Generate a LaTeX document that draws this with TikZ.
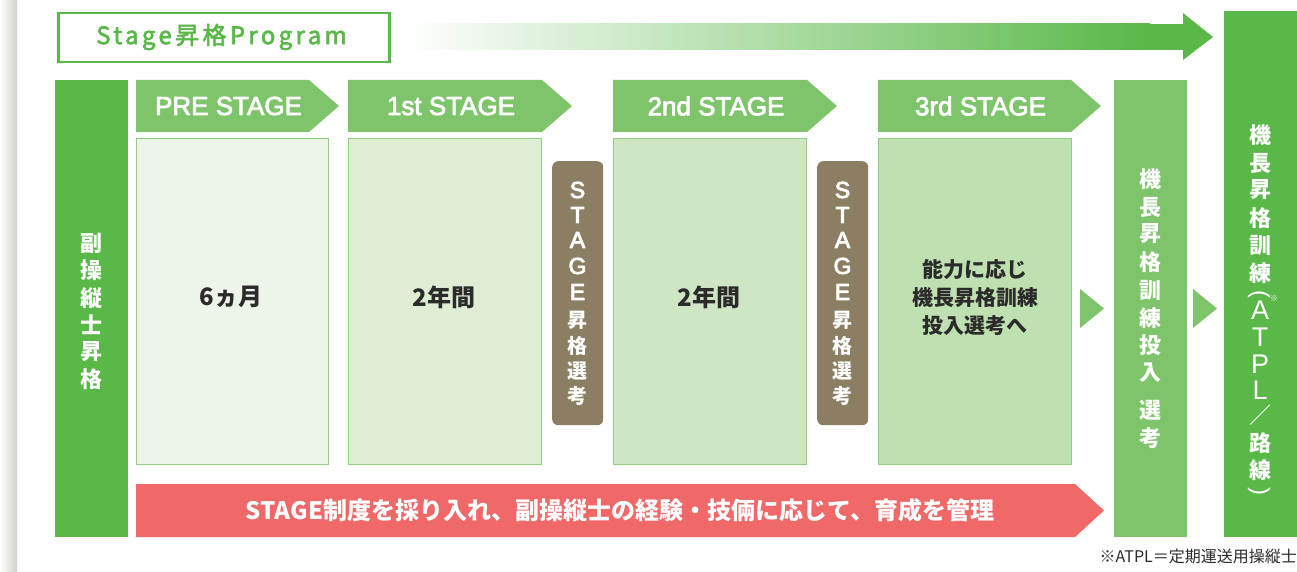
\documentclass[tikz,border=0pt]{standalone}
\usepackage{fontspec}
\setmainfont{Noto Sans CJK JP}
\newfontfamily\lat{Liberation Sans}
\newcommand\heavy[2]{\special{pdf:literal direct 2 Tr #1 w 1 j}#2\special{pdf:literal direct 0 Tr}}
\definecolor{dgreen}{HTML}{59B848}
\definecolor{hgreen}{HTML}{7DC46A}
\definecolor{bline}{HTML}{8ED07F}
\definecolor{cza}{HTML}{EDF5E8}
\definecolor{czb}{HTML}{DEEDD4}
\definecolor{czc}{HTML}{CFE6C5}
\definecolor{czd}{HTML}{BFE0B0}
\definecolor{brownbox}{HTML}{8B7E62}
\definecolor{redbar}{HTML}{F06868}
\definecolor{txt}{HTML}{2B2B2B}
\definecolor{shadowgray}{HTML}{D3CEC9}
\begin{document}
\begin{tikzpicture}[x=1pt,y=-1pt,
  cbox/.style={draw=bline, line width=1pt, anchor=north west, inner sep=0pt},
  htext/.style={text=white, font=\lat\fontsize{26}{26}\selectfont, inner sep=0pt},
  vch/.style={text=white, font=\bfseries\fontsize{#1}{#1}\selectfont, inner sep=0pt},
  vch/.default=22,
  ctext/.style={text=txt, font=\bfseries\fontsize{#1}{28}\selectfont, align=center, inner sep=0pt},
  ctext/.default=24]
\useasboundingbox (0,0) rectangle (1297,572);
\fill[white] (0,0) rectangle (1297,572);
% left shadow
\shade[left color=white, right color=shadowgray] (0,0) rectangle (17,572);

% title box
\node[draw=dgreen, line width=2.5pt, minimum width=331pt, minimum height=49pt, anchor=north west, inner sep=0pt] (title) at (57,12) {};
\node[text=dgreen, font=\fontsize{24}{24}\selectfont\addfontfeatures{LetterSpace=14}] (titletxt) at (221.5,37) {\heavy{0.6}{Stage昇格Program}};

% gradient arrow
\shade[left color=white, right color=dgreen] (405,24) rectangle (1150,50);
\fill[dgreen] (1149,24) rectangle (1184,50);
\fill[dgreen] (1183,13) -- (1213,37) -- (1183,60) -- cycle;

% left, mid, right vertical boxes
\node[fill=dgreen, minimum width=73pt, minimum height=457pt, anchor=north west, inner sep=0pt] (lbox) at (55,80) {};
\node[fill=hgreen, minimum width=73pt, minimum height=457pt, anchor=north west, inner sep=0pt] (mbox) at (1114,80) {};
\node[fill=dgreen, minimum width=73pt, minimum height=526pt, anchor=north west, inner sep=0pt] (rbox) at (1224,11) {};

% headers
\newcommand\hdr[5]{%
  \fill[hgreen] (#1,80) -- (#2,80) -- (#3,106) -- (#2,132) -- (#1,132) -- cycle;
  \node[htext] (#5) at ({(#1+#2)/2+6},106) {\heavy{0.8}{#4}};}
\hdr{136}{309}{339}{PRE STAGE}{h0}
\hdr{348}{542}{572}{1st STAGE}{h1}
\hdr{613}{807}{837}{2nd STAGE}{h2}
\hdr{878}{1071}{1101}{3rd STAGE}{h3}

% content boxes
\node[cbox, fill=cza, minimum width=192pt, minimum height=326pt] (c0) at (136,138) {};
\node[cbox, fill=czb, minimum width=193pt, minimum height=326pt] (c1) at (348,138) {};
\node[cbox, fill=czc, minimum width=193pt, minimum height=326pt] (c2) at (613,138) {};
\node[cbox, fill=czd, minimum width=193pt, minimum height=326pt] (c3) at (878,138) {};
\node[ctext] (t0) at (231,297) {6ヵ月};
\node[ctext] (t1) at (444,297) {2年間};
\node[ctext] (t2) at (709,297) {2年間};
\node[ctext=21] (t3) at (975,297) {能力に応じ\\機長昇格訓練\\投入選考へ};

% brown boxes
\node[fill=brownbox, rounded corners=6pt, minimum width=51pt, minimum height=264pt, anchor=north west, inner sep=0pt] (b1) at (552,161) {};
\node[fill=brownbox, rounded corners=6pt, minimum width=51pt, minimum height=264pt, anchor=north west, inner sep=0pt] (b2) at (817,161) {};

% triangles
\fill[hgreen] (1080,289) -- (1104,308.5) -- (1080,328) -- cycle;
\fill[hgreen] (1193,289) -- (1217,308.5) -- (1193,328) -- cycle;

% red bar
\fill[redbar] (136,484) -- (1075,484) -- (1104,510.5) -- (1075,537) -- (136,537) -- cycle;
\node[text=white, font=\bfseries\fontsize{24}{24}\selectfont, inner sep=0pt] (redtxt) at (620,510.5) {STAGE制度を採り入れ、副操縦士の経験・技倆に応じて、育成を管理};

% vertical texts
\foreach \c/\y in {副/243, 操/270, 縦/298, 士/325, 昇/352, 格/379}
  \node[vch] (L\y) at (91.5,\y) {\c};
\foreach \c/\y in {昇/320, 格/346, 選/371, 考/396}{
  \node[vch=20] (B\y) at (577.5,\y) {\c};
  \node[vch=20] (C\y) at (842.5,\y) {\c};}
\foreach \c/\y in {S/190, T/215, A/240, G/266, E/292}{
  \node[text=white, font=\lat\fontsize{23}{23}\selectfont, inner sep=0pt] (B\y) at (577.5,\y) {\heavy{0.9}{\c}};
  \node[text=white, font=\lat\fontsize{23}{23}\selectfont, inner sep=0pt] (C\y) at (842.5,\y) {\heavy{0.9}{\c}};}
\foreach \c/\y in {機/179, 長/207, 昇/234, 格/262, 訓/290, 練/318, 投/345, 入/373, 選/410, 考/438}
  \node[vch] (M\y) at (1150.5,\y) {\c};
\foreach \c/\y in {機/135, 長/163, 昇/190, 格/218, 訓/245, 練/273, 路/443, 線/470}
  \node[vch] (R\y) at (1260,\y) {\c};
\node[text=white, font=\fontsize{22}{22}\selectfont, inner sep=0pt] (slash) at (1260,415) {／};
\node[text=white, font=\lat\fontsize{24}{24}\selectfont, inner sep=0pt, rotate=-90] (popen) at (1259,294) {(};
\node[text=white, font=\lat\fontsize{24}{24}\selectfont, inner sep=0pt, rotate=-90] (pclose) at (1259,491) {)};
\foreach \c/\y in {A/310, T/337, P/364, L/390}
  \node[text=white, font=\lat\fontsize{27}{27}\selectfont, inner sep=0pt] (Q\y) at (1260,\y) {\c};
\node[text=white, font=\fontsize{8}{8}\selectfont, inner sep=0pt] (mark) at (1274,299) {※};

% footnote
\node[text=txt, font=\fontsize{16}{16}\selectfont, anchor=east, inner sep=0pt] (foot) at (1297,556) {※ATPL＝定期運送用操縦士};
\end{tikzpicture}
\end{document}
